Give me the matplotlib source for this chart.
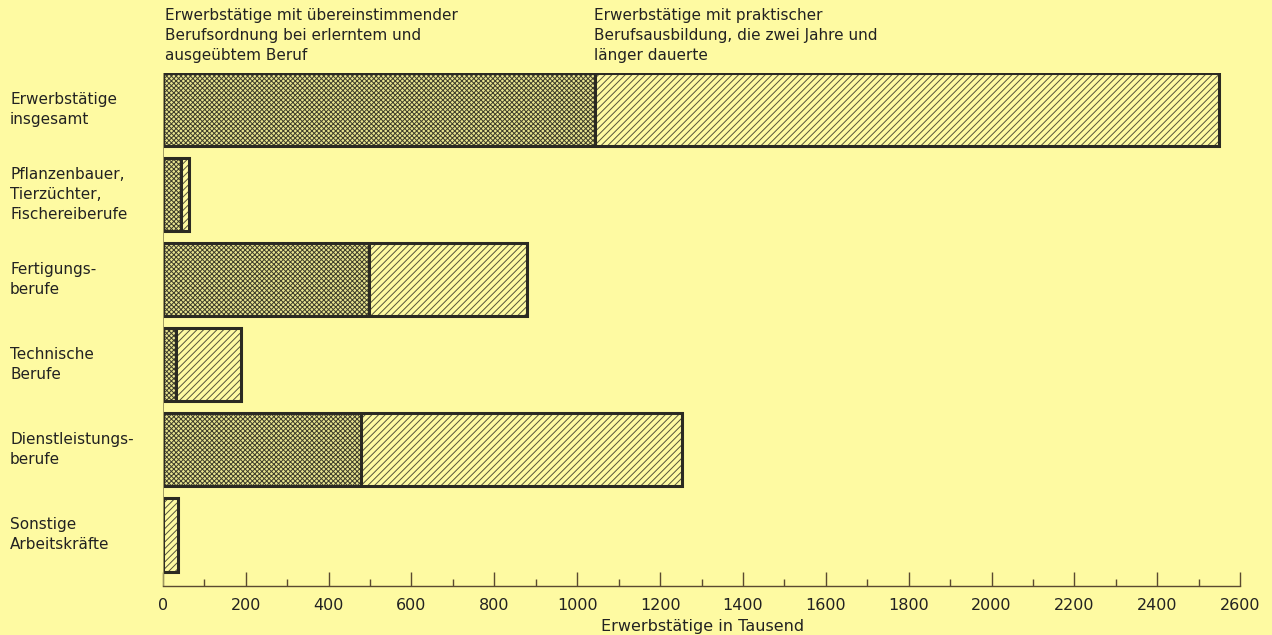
import matplotlib
matplotlib.use("Agg")
import matplotlib.pyplot as plt
import numpy as np

# data (thousands)
categories = [
    "Erwerbstätige\ninsgesamt",
    "Pflanzenbauer,\nTierzüchter,\nFischereiberufe",
    "Fertigungs-\nberufe",
    "Technische\nBerufe",
    "Dienstleistungs-\nberufe",
    "Sonstige\nArbeitskräfte",
]
matching_occupation = [1042, 43, 497, 31, 478, 0]
practical_training = [2548, 63, 879, 188, 1253, 36]

header_left = "Erwerbstätige mit übereinstimmender\nBerufsordnung bei erlerntem und\nausgeübtem Beruf"
header_right = "Erwerbstätige mit praktischer\nBerufsausbildung, die zwei Jahre und\nlänger dauerte"
x_label = "Erwerbstätige in Tausend"
major_ticks = list(range(0, 2601, 200))
minor_ticks = list(range(100, 2600, 200))

BG = "#fefaa2"
EDGE = "#2b2a22"
HATCH = "#55533a"
AXIS = "#5a4a30"

plt.rcParams["font.family"] = ["DejaVu Sans"]
plt.rcParams["hatch.linewidth"] = 0.7
plt.rcParams["hatch.color"] = HATCH

fig = plt.figure(figsize=(12.72, 6.35), dpi=100, facecolor=BG)
ax = fig.add_axes([0.128, 0.0772, 0.847, 0.808], facecolor=BG)

y = np.arange(len(categories))
h = 0.86

# diagonal part (full length), then crosshatched part on top
ax.barh(y, practical_training, height=h, color=BG, edgecolor=HATCH, hatch="/////", linewidth=0)
ax.barh(y, matching_occupation, height=h, color="#e8e490", edgecolor="#3e3d2a", hatch="xxxxxxx", linewidth=0)
ax.barh(y, practical_training, height=h, fill=False, edgecolor=EDGE, linewidth=2.2)
for yi, v in zip(y, matching_occupation):
    if v > 0:
        ax.plot([v, v], [yi - h / 2, yi + h / 2], color=EDGE, lw=2.2, solid_capstyle="butt")

ax.set_xlim(0, 2600)
ax.set_ylim(5.6, -0.43)
ax.set_yticks([])
ax.set_xticks(major_ticks)
ax.set_xticks(minor_ticks, minor=True)
ax.tick_params(axis="x", which="major", direction="in", length=10, width=1, color=AXIS,
               labelsize=11.5, pad=9, labelcolor="#222222")
ax.tick_params(axis="x", which="minor", direction="in", length=5, width=1, color=AXIS)
for s in ["top", "right"]:
    ax.spines[s].set_visible(False)
ax.spines["bottom"].set_color(AXIS)
ax.spines["bottom"].set_linewidth(1.0)
ax.spines["left"].set_color("#a09a60")
ax.spines["left"].set_linewidth(0.7)
ax.set_xlabel(x_label, fontsize=11.5, color="#222222", labelpad=0)
ax.xaxis.set_label_coords(0.501, -0.064)

for yi, lab in zip(y, categories):
    fig.text(10 / 1272, 1 - (109.5 + 85 * yi) / 635, lab, ha="left", va="center",
             fontsize=11, color="#222222", linespacing=1.45)

fig.text(165 / 1272, 1 - 8 / 635, header_left, ha="left", va="top", fontsize=11,
         color="#222222", linespacing=1.4)
fig.text(594 / 1272, 1 - 8 / 635, header_right, ha="left", va="top", fontsize=11,
         color="#222222", linespacing=1.4)

fig.savefig("out.png", dpi=100, facecolor=BG)
